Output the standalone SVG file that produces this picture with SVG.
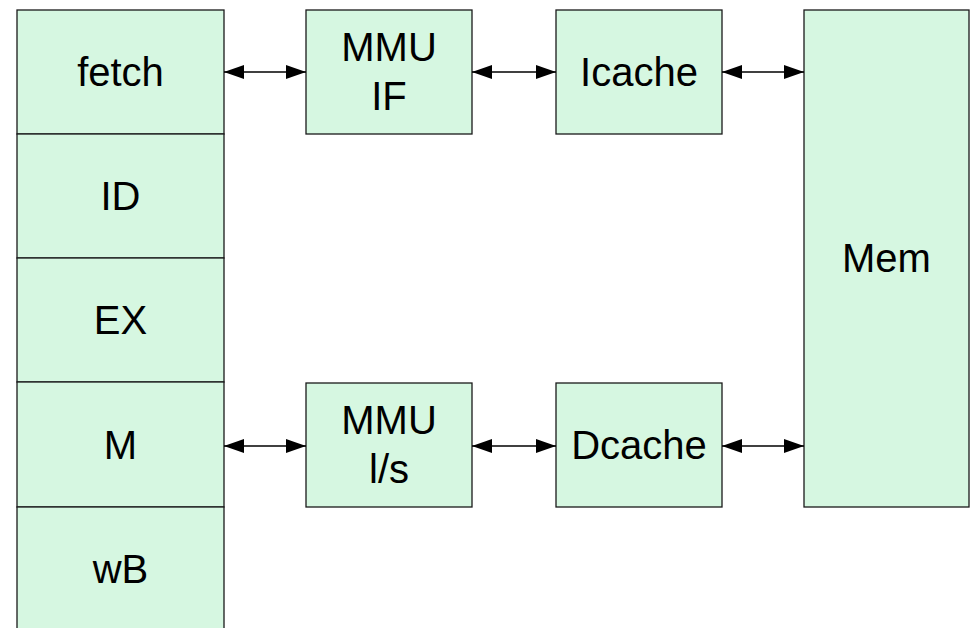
<svg xmlns="http://www.w3.org/2000/svg" width="974" height="628" viewBox="0 0 974 628">
  <style>
    .box { fill: #d6f7e1; stroke: #1a1a1a; stroke-width: 1.3; }
    .lbl { font-family: "Liberation Sans", Arial, sans-serif; font-size: 40px; fill: #000; text-anchor: middle; }
    .link { stroke: #000; stroke-width: 1.3; fill: none; marker-start: url(#head); marker-end: url(#head); }
  </style>
  <defs>
    <marker id="head" viewBox="0 0 20 14" refX="20" refY="7" markerWidth="20" markerHeight="14" markerUnits="userSpaceOnUse" orient="auto-start-reverse">
      <path d="M0,0 L20,7 L0,14 Z" fill="#000"/>
    </marker>
  </defs>

  <rect width="974" height="628" fill="#fff"/>

  <!-- pipeline stages -->
  <g id="fetch"><rect class="box" x="17" y="10" width="207" height="124"/><text class="lbl" x="120.5" y="86">fetch</text></g>
  <g id="ID"><rect class="box" x="17" y="134" width="207" height="124"/><text class="lbl" x="120.5" y="210">ID</text></g>
  <g id="EX"><rect class="box" x="17" y="258" width="207" height="124"/><text class="lbl" x="120.5" y="334">EX</text></g>
  <g id="M"><rect class="box" x="17" y="382" width="207" height="125"/><text class="lbl" x="120.5" y="459">M</text></g>
  <g id="wB"><rect class="box" x="17" y="507" width="207" height="130"/><text class="lbl" x="120.5" y="583">wB</text></g>

  <!-- memory units -->
  <g id="mmu-if"><rect class="box" x="306" y="10" width="166" height="124"/><text class="lbl" x="389" y="61">MMU</text><text class="lbl" x="389" y="110">IF</text></g>
  <g id="icache"><rect class="box" x="556" y="10" width="166" height="124"/><text class="lbl" x="639" y="86">Icache</text></g>
  <g id="mmu-ls"><rect class="box" x="306" y="383" width="166" height="124"/><text class="lbl" x="389" y="434">MMU</text><text class="lbl" x="389" y="483">l/s</text></g>
  <g id="dcache"><rect class="box" x="556" y="383" width="166" height="124"/><text class="lbl" x="639" y="459">Dcache</text></g>
  <g id="mem"><rect class="box" x="804" y="10" width="165" height="497"/><text class="lbl" x="886.5" y="272">Mem</text></g>

  <!-- connectors -->
  <g id="connectors">
    <line class="link" x1="224" y1="72" x2="306" y2="72"/>
    <line class="link" x1="472" y1="72" x2="556" y2="72"/>
    <line class="link" x1="722" y1="72" x2="804" y2="72"/>
    <line class="link" x1="224" y1="446" x2="306" y2="446"/>
    <line class="link" x1="472" y1="446" x2="556" y2="446"/>
    <line class="link" x1="722" y1="446" x2="804" y2="446"/>
  </g>
</svg>
